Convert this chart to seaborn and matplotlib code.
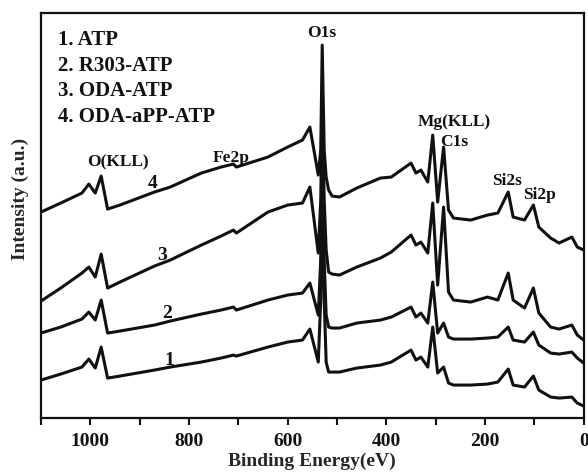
import numpy as np
import pandas as pd
import matplotlib
matplotlib.use("Agg")
import matplotlib.pyplot as plt
import seaborn as sns
from matplotlib.ticker import MultipleLocator

# binding energy grid (eV)
energy = [1100, 1060, 1017, 1003, 990, 978, 965, 940, 870, 838,
          775, 735, 710, 704, 640, 600, 570, 555, 538, 533,
          530, 526, 522, 517, 510, 495, 460, 412, 390, 350,
          340, 330, 316, 306, 296, 284, 274, 264, 229, 195,
          174, 153, 143, 120, 102, 91, 67, 50, 24, 13, 0]

# intensities (a.u.) for each sample, offset as in the figure
atp = [38, 44, 51, 59, 50, 71, 40, 42, 48, 51,
       56, 60, 63, 62, 71, 76, 78, 89, 56, 118,
       228, 118, 56, 46, 46, 46, 50, 53, 56, 68,
       58, 61, 51, 91, 45, 51, 35, 33, 33, 34,
       36, 49, 33, 31, 42, 28, 21, 20, 21, 15, 12]
r303_atp = [85, 91, 99, 106, 98, 118, 85, 87, 93, 97,
            104, 108, 111, 108, 118, 123, 125, 135, 103, 158,
            278, 158, 103, 91, 90, 90, 95, 98, 101, 111,
            101, 105, 95, 136, 85, 95, 81, 79, 79, 80,
            81, 91, 78, 76, 86, 73, 65, 64, 66, 60, 55]
oda_atp = [117, 130, 145, 151, 141, 164, 130, 136, 152, 158,
           173, 182, 188, 185, 206, 213, 215, 231, 165, 218,
           323, 218, 168, 146, 144, 143, 151, 160, 166, 183,
           173, 176, 165, 215, 133, 211, 126, 118, 116, 121,
           118, 145, 118, 110, 130, 105, 91, 89, 93, 83, 78]
oda_app_atp = [206, 215, 225, 234, 225, 242, 209, 213, 226, 231,
               245, 251, 254, 251, 261, 271, 278, 291, 243, 268,
               373, 268, 241, 228, 222, 221, 230, 240, 241, 255,
               245, 248, 236, 283, 216, 271, 208, 200, 198, 203,
               205, 226, 201, 198, 213, 191, 180, 175, 181, 171, 168]

sample_names = ["1. ATP", "2. R303-ATP", "3. ODA-ATP", "4. ODA-aPP-ATP"]
curve_tags = ["1", "2", "3", "4"]
tag_pos = [(839, 58), (845, 105), (855, 163), (873, 235)]
peak_labels = ["O(KLL)", "Fe2p", "O1s", "Mg(KLL)", "C1s", "Si2s", "Si2p"]
peak_pos = [(944, 256), (715, 260), (531, 385), (263, 296), (263, 276), (156, 237), (89, 223)]

sns.set_theme(style="ticks")
plt.rcParams["font.family"] = ["Liberation Serif", "DejaVu Serif"]
plt.rcParams["font.weight"] = "bold"

fig = plt.figure(figsize=(5.88, 4.74), dpi=100)
ax = fig.add_axes([0.0697, 0.118, 0.923, 0.8545])

for series in [atp, r303_atp, oda_atp, oda_app_atp]:
    df = pd.DataFrame({"energy": energy, "intensity": series})
    sns.lineplot(data=df, x="energy", y="intensity", ax=ax, color="#111111",
                 lw=2.2, sort=False, estimator=None)

ax.set_xlim(1100, 0)
ax.set_ylim(0, 405)
ax.xaxis.set_major_locator(MultipleLocator(200))
ax.xaxis.set_minor_locator(MultipleLocator(100))
ax.set_yticks([])
ax.tick_params(axis="x", which="both", direction="out", length=5, width=1.5,
               labelsize=14, pad=6, colors="#111111")
for lab in ax.get_xticklabels():
    lab.set_fontweight("bold")
for sp in ax.spines.values():
    sp.set_visible(True)
    sp.set_linewidth(1.6)
    sp.set_color("#111111")

ax.set_xlabel("Binding Energy(eV)", fontsize=14, fontweight="bold", labelpad=2)
ax.set_ylabel("Intensity (a.u.)", fontsize=14, fontweight="bold")
ax.yaxis.set_label_coords(-0.022, 0.54)

legend_y = [0.933, 0.869, 0.807, 0.743]
for name, y in zip(sample_names, legend_y):
    ax.text(0.031, y, name, transform=ax.transAxes, fontsize=15,
            fontweight="bold", va="center", ha="left", color="#111111")

for tag, (x, y) in zip(curve_tags, tag_pos):
    ax.text(x, y, tag, fontsize=14, fontweight="bold", ha="center", va="center",
            color="#111111")

for lab, (x, y) in zip(peak_labels, peak_pos):
    ax.text(x, y, lab, fontsize=12.5, fontweight="bold", ha="center", va="center",
            color="#111111")

fig.savefig("out.png", dpi=100)
